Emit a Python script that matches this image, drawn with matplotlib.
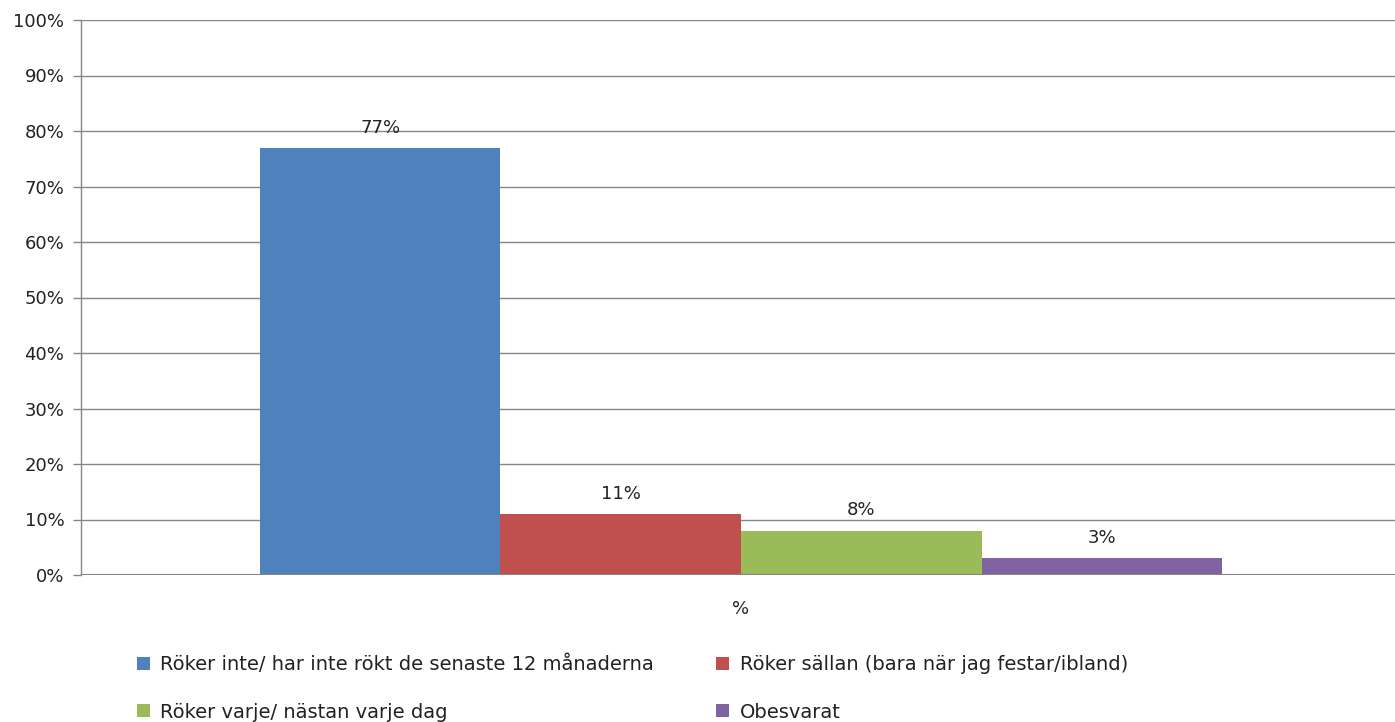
import matplotlib.pyplot as plt
from matplotlib.ticker import PercentFormatter

categories = ["%"]
series = [
    "Röker inte/ har inte rökt de senaste 12 månaderna",
    "Röker sällan (bara när jag festar/ibland)",
    "Röker varje/ nästan varje dag",
    "Obesvarat",
]
values = [77, 11, 8, 3]
colors = ["#4F81BD", "#C0504D", "#9BBB59", "#8064A2"]

plt.rcParams["font.family"] = ["DejaVu Sans"]
grid_color = "#868686"

fig = plt.figure(figsize=(13.95, 7.22), dpi=100)
ax = fig.add_axes([81 / 1395, 1 - 575 / 722, 1320 / 1395, 555 / 722])

width = 0.729 / len(series)
bars = []
for i, (name, val, col) in enumerate(zip(series, values, colors)):
    x = (i - (len(series) - 1) / 2) * width
    b = ax.bar(x, val, width=width, color=col, label=name, zorder=3)
    bars.append(b)
    ax.annotate(f"{val}%", (x, val), xytext=(0, 8), textcoords="offset points",
                ha="center", va="bottom", fontsize=13, color="#222222")

ax.set_xlim(-0.5, 0.5)
ax.set_ylim(0, 100)
ax.set_yticks(range(0, 101, 10))
ax.yaxis.set_major_formatter(PercentFormatter(decimals=0))
ax.tick_params(axis="y", labelsize=13, colors=grid_color, labelcolor="#222222",
               length=6, width=1, direction="out", pad=6)
ax.set_xticks([0])
ax.set_xticklabels(categories, fontsize=13, color="#222222")
ax.tick_params(axis="x", length=0, pad=18)
ax.grid(axis="y", color=grid_color, linewidth=1, zorder=1)
for side in ("top", "right", "bottom"):
    ax.spines[side].set_visible(False)
ax.spines["left"].set_color(grid_color)
ax.spines["left"].set_linewidth(1)
ax.axhline(0, color=grid_color, linewidth=1.5, zorder=4)

order = [0, 2, 1, 3]
handles = [bars[i] for i in order]
labels = [series[i] for i in order]
fig.legend(handles, labels, ncol=2, loc="upper left",
           bbox_to_anchor=(137 / 1395, 1 - 655 / 722), frameon=False,
           fontsize=14, handlelength=0.65, handleheight=0.65, handletextpad=0.55,
           columnspacing=3.2, labelspacing=1.45, borderpad=0, borderaxespad=0,
           labelcolor="#222222")

fig.savefig("out.png", dpi=100)
